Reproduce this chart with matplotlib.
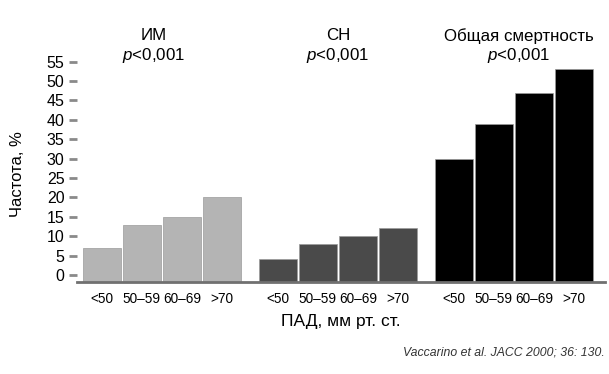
import numpy as np
import matplotlib
matplotlib.use('Agg')
import matplotlib.pyplot as plt

plt.rcParams['font.family'] = ['Liberation Sans', 'DejaVu Sans']
plt.rcParams['mathtext.fontset'] = 'custom'
plt.rcParams['mathtext.it'] = 'Liberation Sans:italic'
plt.rcParams['mathtext.rm'] = 'Liberation Sans'

groups = ['ИМ', 'СН', 'Общая смертность']
p_labels = ['$\\it{p}$<0,001', '$\\it{p}$<0,001', '$\\it{p}$<0,001']
age_labels = ['<50', '50–59', '60–69', '>70']
mi_vals = [7, 13, 15, 20]
hf_vals = [4, 8, 10, 12]
death_vals = [30, 39, 47, 53]
colors = ['#b4b4b4', '#4a4a4a', '#000000']

BASE = -1.8
GROUP_STEP = 4.4
title_shift = [-0.2, 0.0, 0.12]

fig = plt.figure(figsize=(6.09, 3.74), dpi=100)
ax = fig.add_axes([0.1264, 0.246, 0.867, 0.5997])

xt, xl = [], []
for g, vals in enumerate([mi_vals, hf_vals, death_vals]):
    x = g * GROUP_STEP + np.arange(len(vals))
    ax.bar(x, np.array(vals) - BASE, bottom=BASE, width=0.94,
           color=colors[g], edgecolor='#9a9a9a', linewidth=0.5)
    xt += list(x)
    xl += age_labels
    cx = x.mean() + title_shift[g]
    ax.text(cx, 1.098, groups[g], transform=ax.get_xaxis_transform(),
            ha='center', va='center', fontsize=12.2)
    ax.text(cx, 1.01, p_labels[g], transform=ax.get_xaxis_transform(),
            ha='center', va='center', fontsize=12.2)

ax.set_xlim(-0.62, 12.58)
ax.set_ylim(BASE, 56)
ax.set_yticks(np.arange(0, 56, 5))
ax.set_xticks(xt)
ax.set_xticklabels(xl, fontsize=9.8)

for s in ['top', 'right', 'left']:
    ax.spines[s].set_visible(False)
ax.spines['bottom'].set_color('#707070')
ax.spines['bottom'].set_linewidth(2)
ax.tick_params(axis='x', length=0, pad=7)
ax.tick_params(axis='y', length=6, width=2, color='#8a8a8a', pad=3, labelsize=11.5)

ax.set_xlabel('ПАД, мм рт. ст.', fontsize=12.5, labelpad=6)
ax.set_ylabel('Частота, %', fontsize=12)
ax.yaxis.set_label_coords(-0.098, 0.48)

fig.text(0.993, 0.058, 'Vaccarino et al. JACC 2000; 36: 130.', ha='right', va='center',
         fontsize=8.8, style='italic', color='#333333')

fig.savefig('out.png', dpi=100)
